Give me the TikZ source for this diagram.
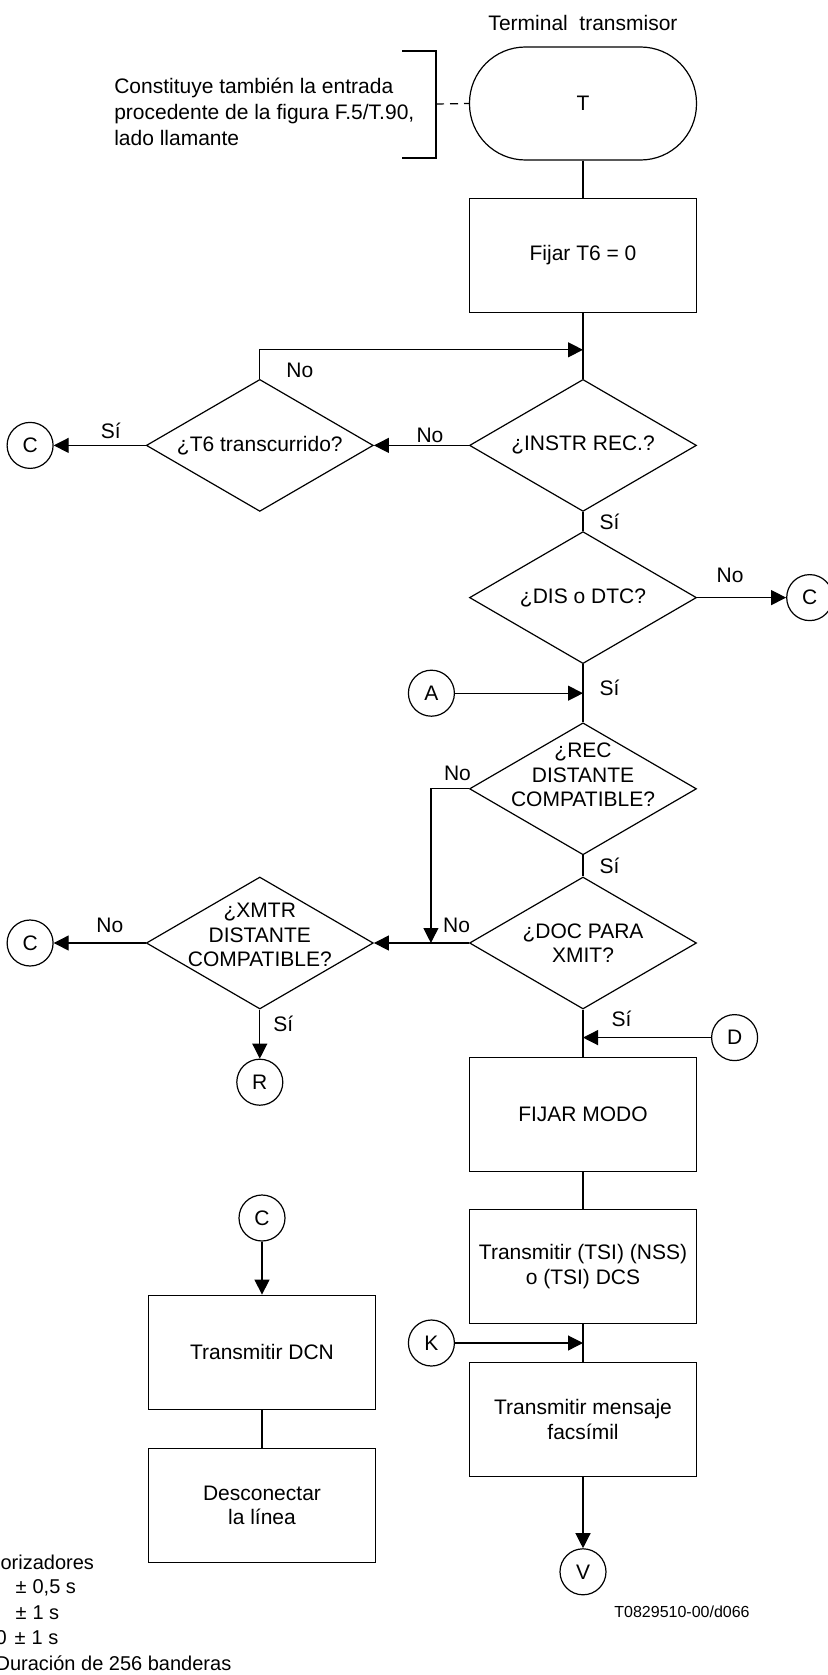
\documentclass[tikz,border=0pt]{standalone}
\usepackage{fontspec}
\setmainfont{Liberation Sans}
\usetikzlibrary{shapes.geometric, arrows.meta, positioning}

\begin{document}
\begin{tikzpicture}[
  x=0.5pt, y=-0.5pt,
  line width=0.6pt,
  font=\fontsize{10.5}{12.3}\selectfont,
  every node/.style={align=center},
  term/.style={rectangle, rounded corners=28pt, draw, minimum width=113.5pt, minimum height=56.5pt},
  proc/.style={rectangle, draw, minimum width=113.5pt, minimum height=57pt, inner sep=2pt},
  decision/.style={diamond, draw, minimum width=113.5pt, minimum height=66pt, inner sep=0pt},
  conn/.style={circle, draw, minimum size=23pt, inner sep=0pt},
  lbl/.style={inner sep=1pt},
  tnote/.style={anchor=west, inner sep=0pt, align=left, font=\fontsize{10}{12}\selectfont},
  arr/.style={-{Triangle[length=7.5pt, width=7.5pt]}}
]
\useasboundingbox (0,0) rectangle (827,1675);

% main column
\node (title) at (583,23) {Terminal\ \ transmisor};
\node[term] (t) at (583,103.5) {T};
\node[proc, below=18.5pt of t] (fix) {Fijar T6 = 0};
\node[decision, below=33pt of fix, label=center:{¿INSTR REC.?}] (instr) {};
\node[decision, below=9.5pt of instr, label=center:{¿DIS o DTC?}] (dis) {};
\node[decision, below=29pt of dis, label={[yshift=7pt]center:¿REC\\DISTANTE\\COMPATIBLE?}] (rec) {};
\node[decision, below=10.5pt of rec, label={center:¿DOC PARA\\XMIT?}] (doc) {};
\node[proc, below=23.5pt of doc] (mode) {FIJAR MODO};
\node[proc, below=18.5pt of mode] (tsi) {Transmitir (TSI) (NSS)\\o (TSI) DCS};
\node[proc, below=19pt of tsi] (msg) {Transmitir mensaje\\facsímil};
\node[conn, below=35.5pt of msg] (v) {V};

% side branches
\node[decision, left=47.5pt of instr, label=center:{¿T6 transcurrido?}] (t6) {};
\node[conn, left=46pt of t6] (c1) {C};
\node[conn, right=44.5pt of dis] (c2) {C};
\node[decision, left=47.5pt of doc, label={[yshift=4pt]center:¿XMTR\\DISTANTE\\COMPATIBLE?}] (xmtr) {};
\node[conn, left=46pt of xmtr] (c3) {C};
\node[conn, below=24.5pt of xmtr] (r) {R};

% junctions on the main line
\coordinate[below=18.5pt of fix] (jl);
\coordinate[below=14.5pt of dis] (ja);
\coordinate[below=14pt of doc] (jd);
\coordinate[below=9.5pt of tsi] (jk);
\coordinate[left=19pt of doc.west] (jdrop);
\node[conn, left=64pt of ja] (a) {A};
\node[conn, right=64pt of jd] (d) {D};
\node[conn, left=64pt of jk] (k) {K};

% disconnect branch
\node[conn] (c4) at (262,1218) {C};
\node[proc, below=26.5pt of c4] (dcn) {Transmitir DCN};
\node[proc, below=19pt of dcn] (off) {Desconectar\\la línea};

% notes
\node[anchor=west, align=left, font=\fontsize{10.5}{13}\selectfont] (note) at (107,112)
  {Constituye también la entrada\\procedente de la figura F.5/T.90,\\lado llamante};
\coordinate (brk) at (436,104);
\draw (402,51) -| (436,158) -- (402,158);
\draw[dash pattern=on 4pt off 3pt] (brk) -- (t.west);
\node[font=\fontsize{8}{9.6}\selectfont] (code) at (682,1612) {T0829510-00/d066};
\node[tnote] (tm1) at (0,1562) {orizadores};
\node[tnote] (tm2) at (15,1588) {±\hspace{3pt}0,5 s};
\node[tnote] (tm3) at (15,1613) {±\hspace{3pt}1 s};
\node[tnote] (tm4) at (-5,1638) {0\hspace{4pt}±\hspace{3pt}1 s};
\node[tnote] (tm5) at (-5,1663) {Duración de 256 banderas};

% connectors
\draw (t) -- (fix);
\draw (fix) -- (instr);
\draw[arr] (t6.north) |- node[lbl, pos=.15, right=12pt] {No} (jl);
\draw[arr] (instr) -- node[lbl, above, pos=.41] {No} (t6);
\draw[arr] (t6) -- node[lbl, above=2pt, pos=.38] {Sí} (c1);
\draw (instr) -- node[lbl, right=7pt] {Sí} (dis);
\draw[arr] (dis) -- node[lbl, above=6pt, pos=.37] {No} (c2);
\draw (dis) -- node[lbl, pos=.4, right=7pt] {Sí} (rec);
\draw[arr] (a) -- (ja);
\draw (rec) -- node[lbl, right=7pt] {Sí} (doc);
\draw[arr] (rec.west) -| node[lbl, pos=.15, above=3pt] {No} (jdrop);
\draw[arr] (doc) -- node[lbl, pos=.13, above=4pt] {No} (xmtr);
\draw[arr] (xmtr) -- node[lbl, pos=.39, above=4pt] {No} (c3);
\draw[arr] (xmtr) -- node[lbl, pos=.3, right=5.5pt] {Sí} (r);
\draw (doc) -- node[lbl, pos=.2, right=13pt] {Sí} (mode);
\draw[arr] (d) -- (jd);
\draw (mode) -- (tsi);
\draw (tsi) -- (msg);
\draw[arr] (k) -- (jk);
\draw[arr] (msg) -- (v);
\draw[arr] (c4) -- (dcn);
\draw (dcn) -- (off);
\end{tikzpicture}
\end{document}
